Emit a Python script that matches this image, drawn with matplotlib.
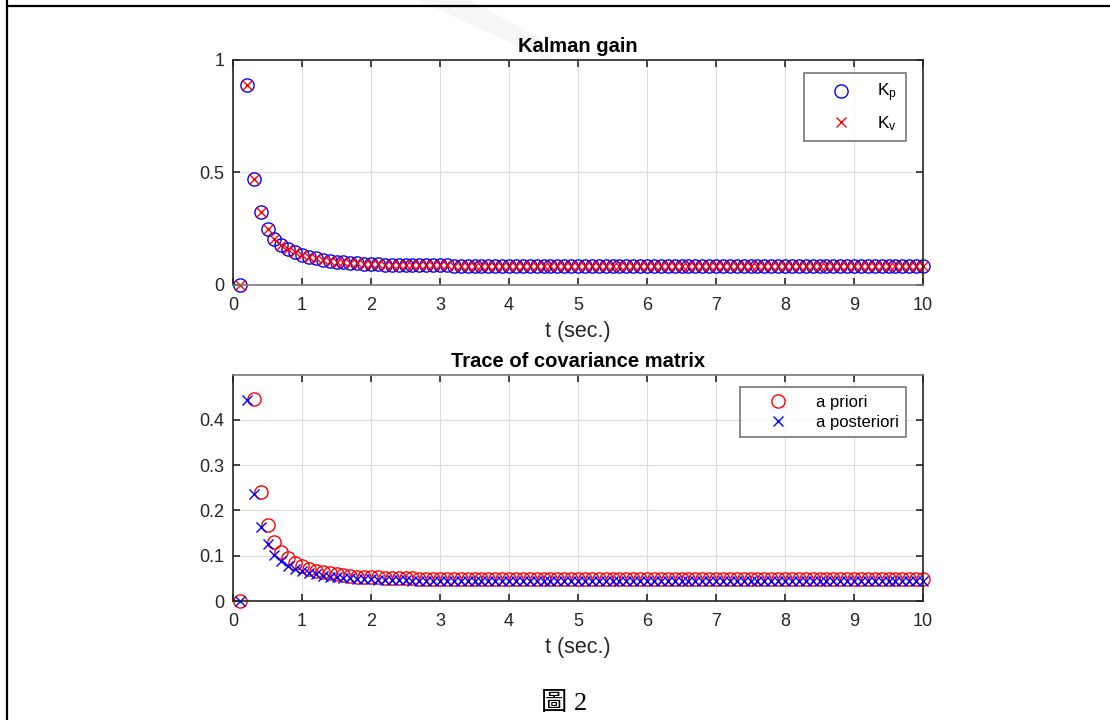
import matplotlib
matplotlib.use("Agg")
import matplotlib.pyplot as plt
from matplotlib.patches import Polygon, Rectangle
from matplotlib.lines import Line2D

plt.rcParams['font.family'] = ['Liberation Sans', 'DejaVu Sans']
plt.rcParams['mathtext.fontset'] = 'custom'
plt.rcParams['mathtext.rm'] = 'Liberation Sans'
plt.rcParams['mathtext.it'] = 'Liberation Sans'

# ---------------- data ----------------
t = [round(0.1 * (i + 1), 1) for i in range(100)]

kp = [0.000, 0.889, 0.473, 0.325, 0.249, 0.206, 0.178, 0.159, 0.145, 0.134,
      0.125, 0.118, 0.112, 0.108, 0.104, 0.101, 0.099, 0.097, 0.095, 0.094,
      0.092, 0.091, 0.090, 0.089, 0.089, 0.088, 0.088, 0.087, 0.087, 0.087,
      0.087, 0.086, 0.086, 0.086, 0.086, 0.086, 0.086, 0.086, 0.086, 0.086,
      0.086, 0.086, 0.086, 0.086, 0.086, 0.086, 0.086, 0.086, 0.086, 0.086,
      0.086, 0.086, 0.086, 0.086, 0.086, 0.086, 0.086, 0.086, 0.086, 0.086,
      0.086, 0.086, 0.086, 0.086, 0.086, 0.086, 0.086, 0.086, 0.086, 0.086,
      0.086, 0.086, 0.086, 0.086, 0.086, 0.086, 0.086, 0.086, 0.086, 0.086,
      0.086, 0.086, 0.086, 0.086, 0.086, 0.086, 0.086, 0.086, 0.086, 0.086,
      0.086, 0.086, 0.086, 0.086, 0.086, 0.086, 0.086, 0.086, 0.086, 0.086]

kv = [0.000, 0.889, 0.473, 0.325, 0.249, 0.206, 0.178, 0.159, 0.145, 0.134,
      0.125, 0.118, 0.112, 0.108, 0.104, 0.101, 0.099, 0.097, 0.095, 0.094,
      0.092, 0.091, 0.090, 0.089, 0.089, 0.088, 0.088, 0.087, 0.087, 0.087,
      0.087, 0.086, 0.086, 0.086, 0.086, 0.086, 0.086, 0.086, 0.086, 0.086,
      0.086, 0.086, 0.086, 0.086, 0.086, 0.086, 0.086, 0.086, 0.086, 0.086,
      0.086, 0.086, 0.086, 0.086, 0.086, 0.086, 0.086, 0.086, 0.086, 0.086,
      0.086, 0.086, 0.086, 0.086, 0.086, 0.086, 0.086, 0.086, 0.086, 0.086,
      0.086, 0.086, 0.086, 0.086, 0.086, 0.086, 0.086, 0.086, 0.086, 0.086,
      0.086, 0.086, 0.086, 0.086, 0.086, 0.086, 0.086, 0.086, 0.086, 0.086,
      0.086, 0.086, 0.086, 0.086, 0.086, 0.086, 0.086, 0.086, 0.086, 0.086]

# a priori trace (value at t=0.2 lies above the visible range)
p_prior = [0.000, 4.000, 0.447, 0.240, 0.167, 0.130, 0.108, 0.094, 0.084, 0.077,
           0.071, 0.067, 0.063, 0.061, 0.059, 0.057, 0.056, 0.054, 0.053, 0.052,
           0.052, 0.051, 0.051, 0.050, 0.050, 0.050, 0.049, 0.049, 0.049, 0.049,
           0.049, 0.048, 0.048, 0.048, 0.048, 0.048, 0.048, 0.048, 0.048, 0.048,
           0.048, 0.048, 0.048, 0.048, 0.048, 0.048, 0.048, 0.048, 0.048, 0.048,
           0.048, 0.048, 0.048, 0.048, 0.048, 0.048, 0.048, 0.048, 0.048, 0.048,
           0.048, 0.048, 0.048, 0.048, 0.048, 0.048, 0.048, 0.048, 0.048, 0.048,
           0.048, 0.048, 0.048, 0.048, 0.048, 0.048, 0.048, 0.048, 0.048, 0.048,
           0.048, 0.048, 0.048, 0.048, 0.048, 0.048, 0.048, 0.048, 0.048, 0.048,
           0.048, 0.048, 0.048, 0.048, 0.048, 0.048, 0.048, 0.048, 0.048, 0.048]

p_post = [0.000, 0.443, 0.236, 0.163, 0.125, 0.102, 0.088, 0.078, 0.071, 0.066,
          0.062, 0.059, 0.056, 0.054, 0.053, 0.051, 0.050, 0.049, 0.048, 0.048,
          0.047, 0.047, 0.046, 0.046, 0.046, 0.045, 0.045, 0.045, 0.045, 0.045,
          0.044, 0.044, 0.044, 0.044, 0.044, 0.044, 0.044, 0.044, 0.044, 0.044,
          0.044, 0.044, 0.044, 0.044, 0.044, 0.044, 0.044, 0.044, 0.044, 0.044,
          0.044, 0.044, 0.044, 0.044, 0.044, 0.044, 0.044, 0.044, 0.044, 0.044,
          0.044, 0.044, 0.044, 0.044, 0.044, 0.044, 0.044, 0.044, 0.044, 0.044,
          0.044, 0.044, 0.044, 0.044, 0.044, 0.044, 0.044, 0.044, 0.044, 0.044,
          0.044, 0.044, 0.044, 0.044, 0.044, 0.044, 0.044, 0.044, 0.044, 0.044,
          0.044, 0.044, 0.044, 0.044, 0.044, 0.044, 0.044, 0.044, 0.044, 0.044]

x_ticks = [0, 1, 2, 3, 4, 5, 6, 7, 8, 9, 10]
y1_ticks = [0, 0.5, 1]
y1_labels = ["0", "0.5", "1"]
y2_ticks = [0, 0.1, 0.2, 0.3, 0.4]
y2_labels = ["0", "0.1", "0.2", "0.3", "0.4"]

# ---------------- figure ----------------
W, H = 1110, 720
fig = plt.figure(figsize=(W / 100, H / 100), dpi=100)


def fx(px):
    return px / W


def fy(py):
    return 1 - py / H


# page decoration: faint watermark and table border
wm = Polygon([(fx(418), fy(0)), (fx(470), fy(0)), (fx(560), fy(50)),
              (fx(548), fy(62)), (fx(505), fy(40))],
             closed=True, transform=fig.transFigure, facecolor='#f6f6f6',
             edgecolor='none', zorder=-10)
fig.patches.append(wm)
fig.add_artist(Line2D([fx(7), fx(1110)], [fy(5.5), fy(5.5)], transform=fig.transFigure,
                      color='black', lw=1.6))
fig.add_artist(Line2D([fx(7.3), fx(7.3)], [fy(0), fy(720)], transform=fig.transFigure,
                      color='black', lw=1.6))

dark = '#262626'
tick_fs = 13


def style_axes(ax, grey_spine):
    ax.set_xlim(0, 10)
    ax.set_xticks(x_ticks)
    ax.grid(True, color='#dcdcdc', lw=0.8)
    ax.set_axisbelow(True)
    ax.tick_params(direction='in', length=5, width=1.2, top=True, right=True,
                   labelsize=tick_fs, colors=dark)
    ax.tick_params(axis='x', pad=9)
    ax.tick_params(axis='y', pad=6)
    for s in ax.spines.values():
        s.set_color(dark)
        s.set_linewidth(1.2)
    ax.spines[grey_spine].set_color('#7a7a7a')


def widen_clip(ax, artists):
    for a in artists:
        a.set_clip_path(Rectangle((-0.05, -0.06), 1.1, 1.08, transform=ax.transAxes))


# top axes
ax1 = fig.add_axes([fx(233), fy(285), fx(923) - fx(233), fy(60) - fy(285)])
l1 = ax1.plot(t, kp, linestyle='none', marker='o', markersize=9.5, markerfacecolor='none',
              markeredgecolor='blue', markeredgewidth=1.0, label='K$_\\mathrm{p}$')
l2 = ax1.plot(t, kv, linestyle='none', marker='x', markersize=7.5, color='red',
              markeredgewidth=1.0, label='K$_\\mathrm{v}$')
widen_clip(ax1, l1 + l2)
ax1.set_ylim(0, 1)
ax1.set_yticks(y1_ticks)
ax1.set_yticklabels(y1_labels)
style_axes(ax1, 'bottom')
ax1.set_xlabel('t (sec.)', fontsize=15.5, color=dark, labelpad=5)
ax1.set_title('Kalman gain', fontsize=14.5, fontweight='bold', color='black', pad=6)
leg1 = ax1.legend(loc='upper right', bbox_to_anchor=(fx(906), fy(73)),
                  bbox_transform=fig.transFigure, borderaxespad=0, fontsize=12.5,
                  frameon=True, fancybox=False, edgecolor='#555555',
                  handlelength=3.3, handletextpad=0.45, borderpad=0.5,
                  labelspacing=0.55)
leg1.get_frame().set_linewidth(1.2)

# bottom axes
ax2 = fig.add_axes([fx(233), fy(601), fx(923) - fx(233), fy(375) - fy(601)])
l3 = ax2.plot(t, p_prior, linestyle='none', marker='o', markersize=9.5, markerfacecolor='none',
              markeredgecolor='red', markeredgewidth=1.0, label='a priori')
l4 = ax2.plot(t, p_post, linestyle='none', marker='x', markersize=7.5, color='blue',
              markeredgewidth=1.0, label='a posteriori')
widen_clip(ax2, l3 + l4)
ax2.set_ylim(0, 0.499)
ax2.set_yticks(y2_ticks)
ax2.set_yticklabels(y2_labels)
style_axes(ax2, 'top')
ax2.set_xlabel('t (sec.)', fontsize=15.5, color=dark, labelpad=5)
ax2.set_title('Trace of covariance matrix', fontsize=14.5, fontweight='bold', color='black', pad=6)
leg2 = ax2.legend(loc='upper right', bbox_to_anchor=(fx(906), fy(387)),
                  bbox_transform=fig.transFigure, borderaxespad=0, fontsize=12,
                  frameon=True, fancybox=False, edgecolor='#555555',
                  handlelength=3.6, handletextpad=0.48, borderpad=0.45,
                  labelspacing=0.3)
leg2.get_frame().set_linewidth(1.2)

# caption
fig.text(fx(564), fy(703), '圖 2', ha='center', va='center', fontsize=19,
         family=['Liberation Serif', 'Noto Sans CJK TC'], color='black')

fig.savefig('out.png', dpi=100)
